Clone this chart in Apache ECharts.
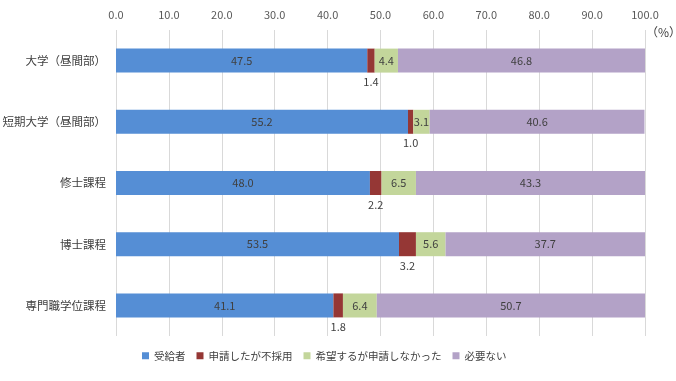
<!DOCTYPE html>
<html><head><meta charset="utf-8">
<script src="https://cdn.jsdelivr.net/npm/echarts@6/dist/echarts.min.js"></script>
<style>html,body{margin:0;padding:0;background:#fff}#c{width:676px;height:381px}</style>
</head><body><div id="c"></div>
<script>
const categories = ['大学（昼間部）','短期大学（昼間部）','修士課程','博士課程','専門職学位課程'];
const seriesNames = ['受給者','申請したが不採用','希望するが申請しなかった','必要ない'];
const recipients = [47.5, 55.2, 48.0, 53.5, 41.1];
const rejected = [1.4, 1.0, 2.2, 3.2, 1.8];
const notApplied = [4.4, 3.1, 6.5, 5.6, 6.4];
const notNeeded = [46.8, 40.6, 43.3, 37.7, 50.7];
const colors = ['#558ED5','#953735','#C3D69B','#B3A2C7'];
const font = '"Noto Sans CJK JP", sans-serif';
const chart = echarts.init(document.getElementById('c'));
const mk = (name, data, color, pos) => ({
  name, type:'bar', stack:'s', data, barWidth:24,
  itemStyle:{color},
  label:{show:true, position:pos, distance:4, color:'#404040', fontSize:11, fontFamily:font,
    formatter:p=>p.value.toFixed(1)}
});
chart.setOption({
  animation:false,
  textStyle:{fontFamily:font},
  grid:{left:116,right:31,top:30,bottom:45,containLabel:false,outerBoundsMode:'none'},
  xAxis:{type:'value',position:'top',min:0,max:100,interval:10,
    axisLine:{show:false},axisTick:{show:false},
    axisLabel:{color:'#595959',fontSize:11,fontFamily:font,margin:10,formatter:v=>v.toFixed(1)},
    splitLine:{lineStyle:{color:'#D9D9D9'}}},
  yAxis:{type:'category',inverse:true,data:categories,
    axisLine:{show:false},axisTick:{show:false},
    axisLabel:{color:'#404040',fontSize:11.5,fontFamily:font,margin:10}},
  legend:{bottom:15,left:137,itemWidth:7,itemHeight:7,itemGap:11,icon:'rect',
    textStyle:{color:'#404040',fontSize:10.5,fontFamily:font},data:seriesNames},
  graphic:[{type:'text',left:646,top:26,style:{text:'（%）',fill:'#404040',font:'12px '+font}}],
  series:[
    mk(seriesNames[0], recipients, colors[0], 'inside'),
    mk(seriesNames[1], rejected, colors[1], 'bottom'),
    mk(seriesNames[2], notApplied, colors[2], 'inside'),
    mk(seriesNames[3], notNeeded, colors[3], 'inside')
  ]
});
</script></body></html>
